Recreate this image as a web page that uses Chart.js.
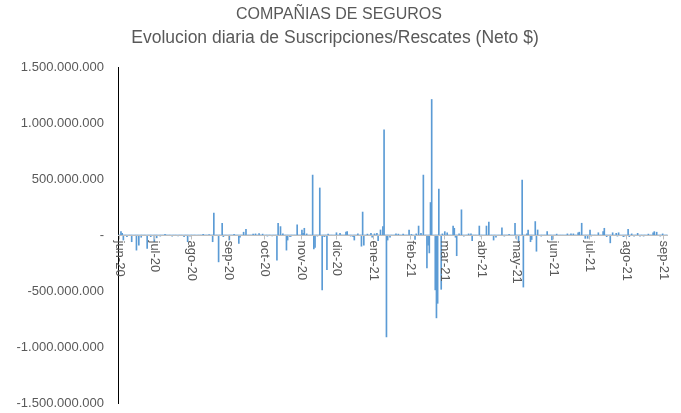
<!DOCTYPE html>
<html>
<head>
<meta charset="utf-8">
<script src="https://cdn.jsdelivr.net/npm/chart.js@4.4.0/dist/chart.umd.min.js"></script>
<style>
  html, body { margin: 0; padding: 0; background: #fff; }
  #wrap { width: 681px; height: 413px; position: relative; }
</style>
</head>
<body>
<div id="wrap"><canvas id="chart"></canvas></div>
<script>
const TITLE = 'COMPAÑIAS DE SEGUROS';
const SUBTITLE = 'Evolucion diaria de Suscripciones/Rescates (Neto $)';

const FIRST_DAY = '2020-06-01';
const LAST_DAY = '2021-09-05';

const monthTicks = [
  '2020-06-01', '2020-07-01', '2020-08-01', '2020-09-01', '2020-10-01', '2020-11-01',
  '2020-12-01', '2021-01-01', '2021-02-01', '2021-03-01', '2021-04-01', '2021-05-01',
  '2021-06-01', '2021-07-01', '2021-08-01', '2021-09-01',
];
const monthLabels = [
  'jun-20', 'jul-20', 'ago-20', 'sep-20', 'oct-20', 'nov-20',
  'dic-20', 'ene-21', 'feb-21', 'mar-21', 'abr-21', 'may-21',
  'jun-21', 'jul-21', 'ago-21', 'sep-21',
];

const Y_MIN = -1500000000;
const Y_MAX = 1500000000;
const Y_STEP = 500000000;

// net daily flow, millions of $ (days not listed are ~0)
const flowDates = [
  '2020-06-03', '2020-06-04', '2020-06-05', '2020-06-08', '2020-06-12', '2020-06-16',
  '2020-06-18', '2020-06-20', '2020-06-25', '2020-06-28', '2020-07-01', '2020-07-03',
  '2020-07-06', '2020-07-10', '2020-07-16', '2020-07-21', '2020-07-26', '2020-07-29',
  '2020-07-31', '2020-08-11', '2020-08-16', '2020-08-19', '2020-08-20', '2020-08-24',
  '2020-08-27', '2020-08-28', '2020-09-02', '2020-09-06', '2020-09-10', '2020-09-11',
  '2020-09-14', '2020-09-16', '2020-09-22', '2020-09-24', '2020-09-27', '2020-09-30',
  '2020-10-04', '2020-10-08', '2020-10-12', '2020-10-13', '2020-10-15', '2020-10-17',
  '2020-10-20', '2020-10-21', '2020-10-23', '2020-10-24', '2020-10-29', '2020-11-02',
  '2020-11-03', '2020-11-04', '2020-11-06', '2020-11-11', '2020-11-12', '2020-11-13',
  '2020-11-15', '2020-11-17', '2020-11-19', '2020-11-20', '2020-11-21', '2020-11-23',
  '2020-11-24', '2020-11-28', '2020-12-01', '2020-12-04', '2020-12-09', '2020-12-10',
  '2020-12-13', '2020-12-15', '2020-12-16', '2020-12-19', '2020-12-22', '2020-12-23',
  '2020-12-24', '2020-12-27', '2020-12-30', '2020-12-31', '2021-01-02', '2021-01-04',
  '2021-01-05', '2021-01-07', '2021-01-09', '2021-01-10', '2021-01-12', '2021-01-13',
  '2021-01-15', '2021-01-20', '2021-01-22', '2021-01-26', '2021-01-31', '2021-02-02',
  '2021-02-05', '2021-02-06', '2021-02-08', '2021-02-10', '2021-02-12', '2021-02-15',
  '2021-02-16', '2021-02-17', '2021-02-18', '2021-02-19', '2021-02-22', '2021-02-23',
  '2021-02-24', '2021-02-25', '2021-02-27', '2021-02-28', '2021-03-02', '2021-03-04',
  '2021-03-09', '2021-03-10', '2021-03-11', '2021-03-12', '2021-03-14', '2021-03-16',
  '2021-03-18', '2021-03-22', '2021-03-24', '2021-03-25', '2021-03-31', '2021-04-01',
  '2021-04-06', '2021-04-08', '2021-04-12', '2021-04-14', '2021-04-19', '2021-04-21',
  '2021-04-25', '2021-04-30', '2021-05-01', '2021-05-03', '2021-05-06', '2021-05-07',
  '2021-05-10', '2021-05-11', '2021-05-13', '2021-05-14', '2021-05-17', '2021-05-18',
  '2021-05-19', '2021-05-22', '2021-05-27', '2021-05-31', '2021-06-04', '2021-06-13',
  '2021-06-16', '2021-06-18', '2021-06-22', '2021-06-23', '2021-06-25', '2021-06-28',
  '2021-06-30', '2021-07-02', '2021-07-03', '2021-07-08', '2021-07-09', '2021-07-13',
  '2021-07-14', '2021-07-16', '2021-07-19', '2021-07-21', '2021-07-24', '2021-07-25',
  '2021-07-26', '2021-07-30', '2021-07-31', '2021-08-03', '2021-08-04', '2021-08-06',
  '2021-08-08', '2021-08-11', '2021-08-13', '2021-08-16', '2021-08-20', '2021-08-24',
  '2021-08-25', '2021-08-27', '2021-08-30', '2021-09-01',
];
const flowValues = [
  30, 15, -45, -15, -60, -135,
  -90, -20, -120, -15, -60, -25,
  -10, 5, -10, -8, -15, -60,
  -10, 5, 3, -60, 195, -240,
  105, -15, -45, 5, -75, -20,
  25, 50, 8, 10, 12, 8,
  -10, -8, -225, 105, 75, 10,
  -135, -45, -15, -10, 90, 45,
  15, 60, 10, 535, -125, -110,
  -10, 420, -490, -10, -15, -310,
  8, -5, 20, 15, 25, 30,
  -10, -15, -45, 10, -100, 205,
  -90, 8, 15, -20, 10, 15,
  -50, 45, 75, 940, -910, -45,
  -20, 10, 8, 8, 45, 5,
  -40, 10, 80, 15, 535, -295,
  -90, -160, 290, 1210, -490, -740,
  -610, 410, -485, 10, 30, 20,
  80, 60, -20, -185, 10, 225,
  -10, 10, 10, -50, 80, -10,
  80, 115, -45, -20, 65, -10,
  5, 105, -30, -65, 490, -465,
  10, 45, -60, -40, 120, -145,
  45, -10, 30, -45, 8, 10,
  10, 10, 20, 25, 105, -30,
  -30, 45, -10, -5, 20, 30,
  60, -15, -70, 20, 15, -10,
  20, -15, -10, 50, -15, 10,
  -10, 15, -10, -10, 8, 20,
  30, 25, -10, 10,
];

// one category per calendar day
function dayList(from, to) {
  const out = [];
  const d = new Date(from + 'T00:00:00Z');
  const end = new Date(to + 'T00:00:00Z');
  while (d <= end) {
    out.push(d.toISOString().slice(0, 10));
    d.setUTCDate(d.getUTCDate() + 1);
  }
  return out;
}

const days = dayList(FIRST_DAY, LAST_DAY);
const flowByDay = {};
flowDates.forEach((d, i) => { flowByDay[d] = flowValues[i] * 1e6; });
const netFlow = days.map(d => flowByDay[d] ?? 0);

function fmtMoney(v) {
  if (v === 0) return '-';
  const s = String(Math.abs(v)).replace(/\B(?=(\d{3})+(?!\d))/g, '.');
  return (v < 0 ? '-' : '') + s;
}

const TEXT = '#595959';
const FONT = "'Liberation Sans', Arial, sans-serif";

const excelAxis = {
  id: 'excelAxis',
  afterDatasetsDraw(chart) {
    const { ctx, chartArea, scales: { x, y } } = chart;
    const y0 = Math.round(y.getPixelForValue(0)) + 0.5;
    ctx.save();

    ctx.strokeStyle = '#bfbfbf';
    ctx.lineWidth = 1;
    ctx.beginPath();
    ctx.moveTo(chartArea.left, y0);
    ctx.lineTo(chartArea.right, y0);
    ctx.stroke();

    ctx.fillStyle = TEXT;
    ctx.font = '13px ' + FONT;
    ctx.textAlign = 'left';
    ctx.textBaseline = 'middle';
    monthTicks.forEach((m, i) => {
      const px = Math.round(x.getPixelForValue(days.indexOf(m))) + 0.5;
      ctx.beginPath();
      ctx.moveTo(px, y0);
      ctx.lineTo(px, y0 + 4);
      ctx.stroke();
      ctx.save();
      ctx.translate(px, y0 + 5);
      ctx.rotate(Math.PI / 2);
      ctx.fillText(monthLabels[i], 0, 0);
      ctx.restore();
    });

    ctx.textAlign = 'center';
    ctx.textBaseline = 'middle';
    ctx.font = '16px ' + FONT;
    ctx.fillText(TITLE, 339, 15);
    ctx.font = '17.5px ' + FONT;
    ctx.fillText(SUBTITLE, 335, 38);
    ctx.restore();
  },
};

new Chart(document.getElementById('chart'), {
  type: 'bar',
  data: {
    labels: days,
    datasets: [{
      data: netFlow,
      backgroundColor: '#5b9bd5',
      borderWidth: 0,
      barThickness: 1,
    }],
  },
  options: {
    responsive: true,
    maintainAspectRatio: false,
    animation: false,
    devicePixelRatio: 1,
    layout: { padding: { left: 0, top: 67, right: 13, bottom: 10 } },
    plugins: {
      legend: { display: false },
      tooltip: { enabled: false },
      title: { display: false },
    },
    scales: {
      x: { display: false },
      y: {
        min: Y_MIN,
        max: Y_MAX,
        ticks: {
          stepSize: Y_STEP,
          color: TEXT,
          padding: 14,
          font: { family: FONT, size: 13 },
          callback: v => fmtMoney(v),
        },
        grid: { display: false, drawTicks: false },
        border: { display: true, color: '#000', width: 1 },
        afterFit: scale => {
          scale.width = 118;
          scale.paddingTop = 0;
          scale.paddingBottom = 0;
        },
      },
    },
  },
  plugins: [excelAxis],
});
</script>
</body>
</html>
